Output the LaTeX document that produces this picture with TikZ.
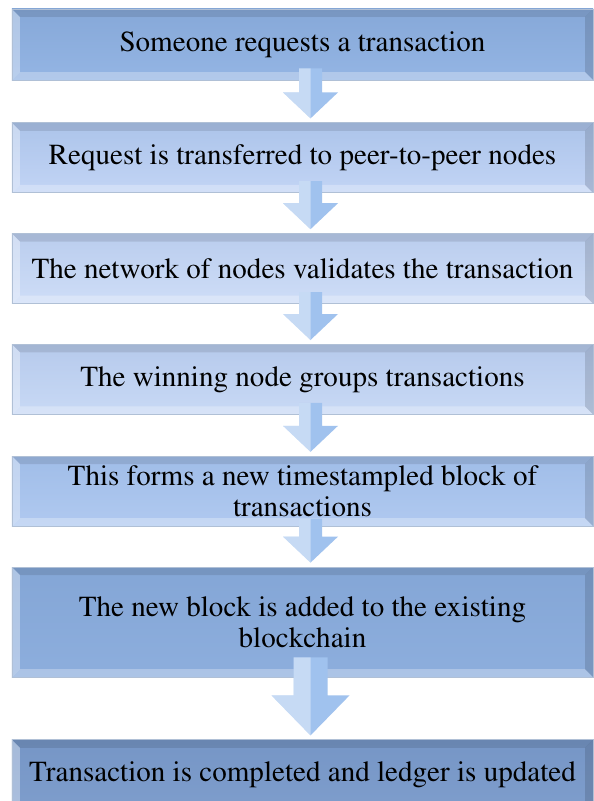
\documentclass[tikz,border=0pt]{standalone}
\usepackage[T1]{fontenc}
\usepackage{times}
\usetikzlibrary{positioning,calc}
\definecolor{edgegray}{RGB}{176,192,214}
\definecolor{flowblue}{RGB}{160,194,238}
\tikzset{
procbox/.style={rectangle,draw=edgegray,line width=0.8bp,minimum width=581bp,minimum height=70bp,
inner sep=0pt,align=center,font=\rmfamily\fontsize{29.2}{31}\selectfont,
path picture={
\fill[black,opacity=.10] (path picture bounding box.north west) -- (path picture bounding box.north east) -- ++(-8bp,-8bp) -- ($(path picture bounding box.north west)+(8bp,-8bp)$) -- cycle;
\fill[white,opacity=.28] (path picture bounding box.south west) -- (path picture bounding box.south east) -- ++(-8bp,8bp) -- ($(path picture bounding box.south west)+(8bp,8bp)$) -- cycle;
\fill[white,opacity=.35] (path picture bounding box.north west) -- (path picture bounding box.south west) -- ++(8bp,8bp) -- ($(path picture bounding box.north west)+(8bp,-8bp)$) -- cycle;
\fill[black,opacity=.13] (path picture bounding box.north east) -- (path picture bounding box.south east) -- ++(-8bp,8bp) -- ($(path picture bounding box.north east)+(-8bp,-8bp)$) -- cycle;
}},
shadeA/.style={top color={rgb,255:red,134;green,168;blue,216},bottom color={rgb,255:red,148;green,181;blue,228}},
shadeB/.style={top color={rgb,255:red,172;green,196;blue,234},bottom color={rgb,255:red,194;green,212;blue,245}},
shadeC/.style={top color={rgb,255:red,186;green,205;blue,238},bottom color={rgb,255:red,206;green,221;blue,247}},
shadeD/.style={top color={rgb,255:red,182;green,202;blue,236},bottom color={rgb,255:red,200;green,217;blue,245}},
shadeE/.style={top color={rgb,255:red,160;green,189;blue,232},bottom color={rgb,255:red,176;green,201;blue,240}},
shadeF/.style={top color={rgb,255:red,132;green,166;blue,214},bottom color={rgb,255:red,141;green,174;blue,221}},
shadeG/.style={top color={rgb,255:red,118;green,150;blue,198},bottom color={rgb,255:red,126;green,157;blue,204}},
flowfill/.style={fill=flowblue},
flowlight/.style={fill=white,opacity=.4}
}
% from, to, half shaft, half head, head length, overlap
\newcommand{\stepflow}[6]{%
\fill[flowfill] let \p1=(#1.south), \p2=(#2.north) in
(\x1+8bp-#3,\y1+#6) -- (\x1+8bp+#3,\y1+#6) -- (\x1+8bp+#3,\y2+4bp+#5) -- (\x1+8bp+#4,\y2+4bp+#5)
-- (\x1+8bp,\y2+4bp) -- (\x1+8bp-#4,\y2+4bp+#5) -- (\x1+8bp-#3,\y2+4bp+#5) -- cycle;
\fill[flowlight] let \p1=(#1.south), \p2=(#2.north) in
(\x1+8bp-#3,\y1+#6) -- (\x1+8bp,\y1+#6) -- (\x1+8bp,\y2+4bp)
-- (\x1+8bp-#4,\y2+4bp+#5) -- (\x1+8bp-#3,\y2+4bp+#5) -- cycle;
}

\begin{document}
\begin{tikzpicture}[x=1bp,y=1bp]
\clip (0,0) rectangle (594,-801);
\fill[white] (0,0) rectangle (594,-801);
\node[procbox,shadeA,minimum height=71bp] (b1) at (302.5,-44.5) {Someone requests a transaction};
\node[procbox,shadeB,below=42bp of b1] (b2) {Request is transferred to peer-to-peer nodes};
\node[procbox,shadeC,below=40bp of b2] (b3) {The network of nodes validates the transaction};
\node[procbox,shadeD,below=40bp of b3] (b4) {The winning node groups transactions};
\node[procbox,shadeE,below=41bp of b4] (b5) {This forms a new timestampled block of\\transactions};
\node[procbox,shadeF,below=40bp of b5,minimum height=110bp] (b6) {The new block is added to the existing\\blockchain};
\node[procbox,shadeG,below=62bp of b6] (b7) {Transaction is completed and ledger is updated};
% arrows between steps
\foreach \a/\b in {b1/b2,b2/b3,b3/b4,b4/b5}
  {\stepflow{\a}{\b}{11.5bp}{27.5bp}{26bp}{12bp}}
\stepflow{b5}{b6}{11.5bp}{27.5bp}{26bp}{8bp}
\stepflow{b6}{b7}{17bp}{39bp}{40bp}{20bp}
\end{tikzpicture}
\end{document}
